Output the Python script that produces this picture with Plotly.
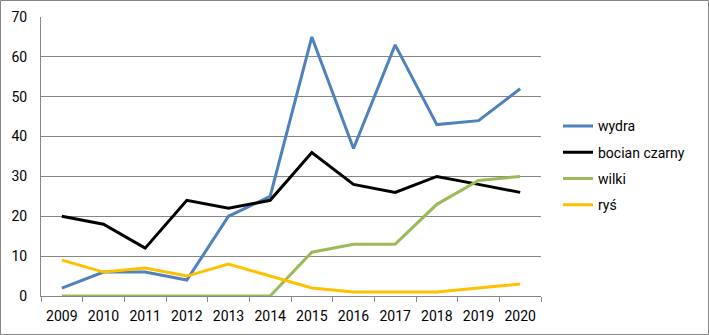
import plotly.graph_objects as go

years = ["2009", "2010", "2011", "2012", "2013", "2014", "2015", "2016", "2017", "2018", "2019", "2020"]
wydra = [2, 6, 6, 4, 20, 25, 65, 37, 63, 43, 44, 52]
bocian = [20, 18, 12, 24, 22, 24, 36, 28, 26, 30, 28, 26]
wilki = [0, 0, 0, 0, 0, 0, 11, 13, 13, 23, 29, 30]
rys = [9, 6, 7, 5, 8, 5, 2, 1, 1, 1, 2, 3]

series = [
    ("wydra", wydra, "#4F81BD"),
    ("bocian czarny", bocian, "#000000"),
    ("wilki", wilki, "#9BBB59"),
    ("ryś", rys, "#FFC000"),
]

fig = go.Figure()
for i, (name, vals, col) in enumerate(series):
    fig.add_trace(go.Scatter(x=years, y=vals, name=name, mode="lines",
                             legendgroup=f"g{i}",
                             line=dict(color=col, width=3)))

W, H = 709, 335
ml, mr, mt, mb = 41, 168, 17, 39
pw, ph = W - ml - mr, H - mt - mb

fig.update_layout(
    width=W, height=H,
    margin=dict(l=ml, r=mr, t=mt, b=mb, autoexpand=False),
    paper_bgcolor="white", plot_bgcolor="white",
    font=dict(family="Roboto", size=14, color="#000000"),
    xaxis=dict(type="category", range=[-0.5, 11.5], showgrid=False,
               showline=True, linecolor="#868686", linewidth=1,
               ticks="outside", ticklen=5, tickcolor="#868686",
               tickson="boundaries", ticklabelstandoff=7, automargin=False,
               tickfont=dict(size=14)),
    yaxis=dict(range=[0, 70], dtick=10, showgrid=True, gridcolor="#868686",
               gridwidth=1, showline=True, linecolor="#868686", linewidth=1,
               zeroline=False, ticks="", ticklabelstandoff=10, automargin=False,
               tickfont=dict(size=14)),
    legend=dict(x=1.034, y=0.468, xanchor="left", yanchor="middle",
                font=dict(size=14), tracegroupgap=5, itemwidth=30,
                bgcolor="rgba(0,0,0,0)"),
    shapes=[dict(type="rect", xref="paper", yref="paper",
                 x0=(-ml + 0.5) / pw, x1=(W - ml - 0.5) / pw,
                 y0=(-mb + 0.5) / ph, y1=(H - mb - 0.5) / ph,
                 line=dict(color="#868686", width=1))],
)

fig.write_html("out.html")
